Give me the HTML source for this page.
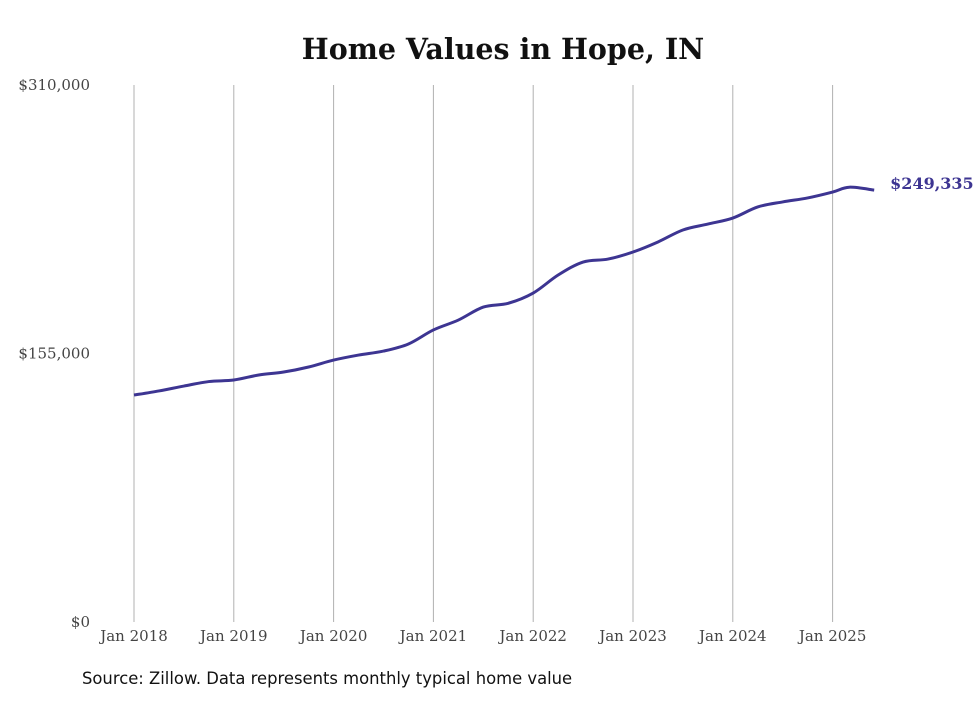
<!DOCTYPE html>
<html><head><meta charset="utf-8"><style>
body{margin:0;background:#fff;width:980px;height:699px;overflow:hidden}
svg text{font-family:"DejaVu Serif","Liberation Serif",serif}
</style></head><body>
<svg width="980" height="699">
<text x="503" y="59" text-anchor="middle" font-size="28.5" font-weight="bold" fill="#111">Home Values in Hope, IN</text>
<g id="grid"></g>
<g id="yt"></g>
<g id="xt"></g>
<path id="line" fill="none" stroke="#3d3592" stroke-width="3"/>
<text id="endlabel" font-size="16" font-weight="bold" fill="#3d3592"></text>
<text x="82" y="684" font-size="16.4" fill="#111" style="font-family:'DejaVu Sans','Liberation Sans',sans-serif">Source: Zillow. Data represents monthly typical home value</text>
</svg>
<script>
const months=[0,3,6,9,12,15,18,21,24,27,30,33,36,39,42,45,48,51,54,57,60,63,66,69,72,75,78,81,84,86,89];
const values=[131000,133400,136200,138800,139700,142600,144300,147200,151200,154100,156400,160500,168600,174300,181800,184000,189900,200300,207800,209500,213600,219400,226300,229700,233200,239600,242500,244800,248200,251000,249335];
const yTicks=[0,155000,310000];
const yTickLabels=["$0","$155,000","$310,000"];
const xYears=["Jan 2018","Jan 2019","Jan 2020","Jan 2021","Jan 2022","Jan 2023","Jan 2024","Jan 2025"];
const endLabel="$249,335";
const X0=134,PX_PER_MONTH=99.8/12,Y0=622,Y1=85,YMAX=310000;
const x=m=>X0+m*PX_PER_MONTH, y=v=>Y0-(v/YMAX)*(Y0-Y1);
const NS="http://www.w3.org/2000/svg";
const grid=document.getElementById('grid'),xt=document.getElementById('xt'),yt=document.getElementById('yt');
xYears.forEach((lab,i)=>{
 const l=document.createElementNS(NS,'line');
 
 
 l.setAttribute('x1',x(i*12));l.setAttribute('x2',x(i*12));l.setAttribute('y1',Y1);l.setAttribute('y2',Y0);
 l.setAttribute('stroke','#b0b0b0');l.setAttribute('stroke-width','1');grid.appendChild(l);
 const t=document.createElementNS(NS,'text');
 
 
 t.setAttribute('x',x(i*12));t.setAttribute('y',641);t.setAttribute('text-anchor','middle');
 t.setAttribute('font-size','15');t.setAttribute('fill','#444');t.textContent=lab;xt.appendChild(t);
});
yTicks.forEach((v,i)=>{
 const t=document.createElementNS(NS,'text');
 
 
 t.setAttribute('x',90);t.setAttribute('y',y(v)+5);t.setAttribute('text-anchor','end');
 t.setAttribute('font-size','15');t.setAttribute('fill','#444');t.textContent=yTickLabels[i];yt.appendChild(t);
});
const pts=months.map((m,i)=>[x(m),y(values[i])]);
let d='M'+pts[0][0]+','+pts[0][1];
for(let i=0;i<pts.length-1;i++){
 const p0=pts[Math.max(0,i-1)],p1=pts[i],p2=pts[i+1],p3=pts[Math.min(pts.length-1,i+2)];
 const c1=[p1[0]+(p2[0]-p0[0])/6,p1[1]+(p2[1]-p0[1])/6],c2=[p2[0]-(p3[0]-p1[0])/6,p2[1]-(p3[1]-p1[1])/6];
 d+=` C${c1[0]},${c1[1]} ${c2[0]},${c2[1]} ${p2[0]},${p2[1]}`;
}
document.getElementById('line').setAttribute('d',d);
const last=pts[pts.length-1],el=document.getElementById('endlabel');
el.setAttribute('x',last[0]+16);el.setAttribute('y',last[1]-1);el.textContent=endLabel;
</script>
</body></html>
